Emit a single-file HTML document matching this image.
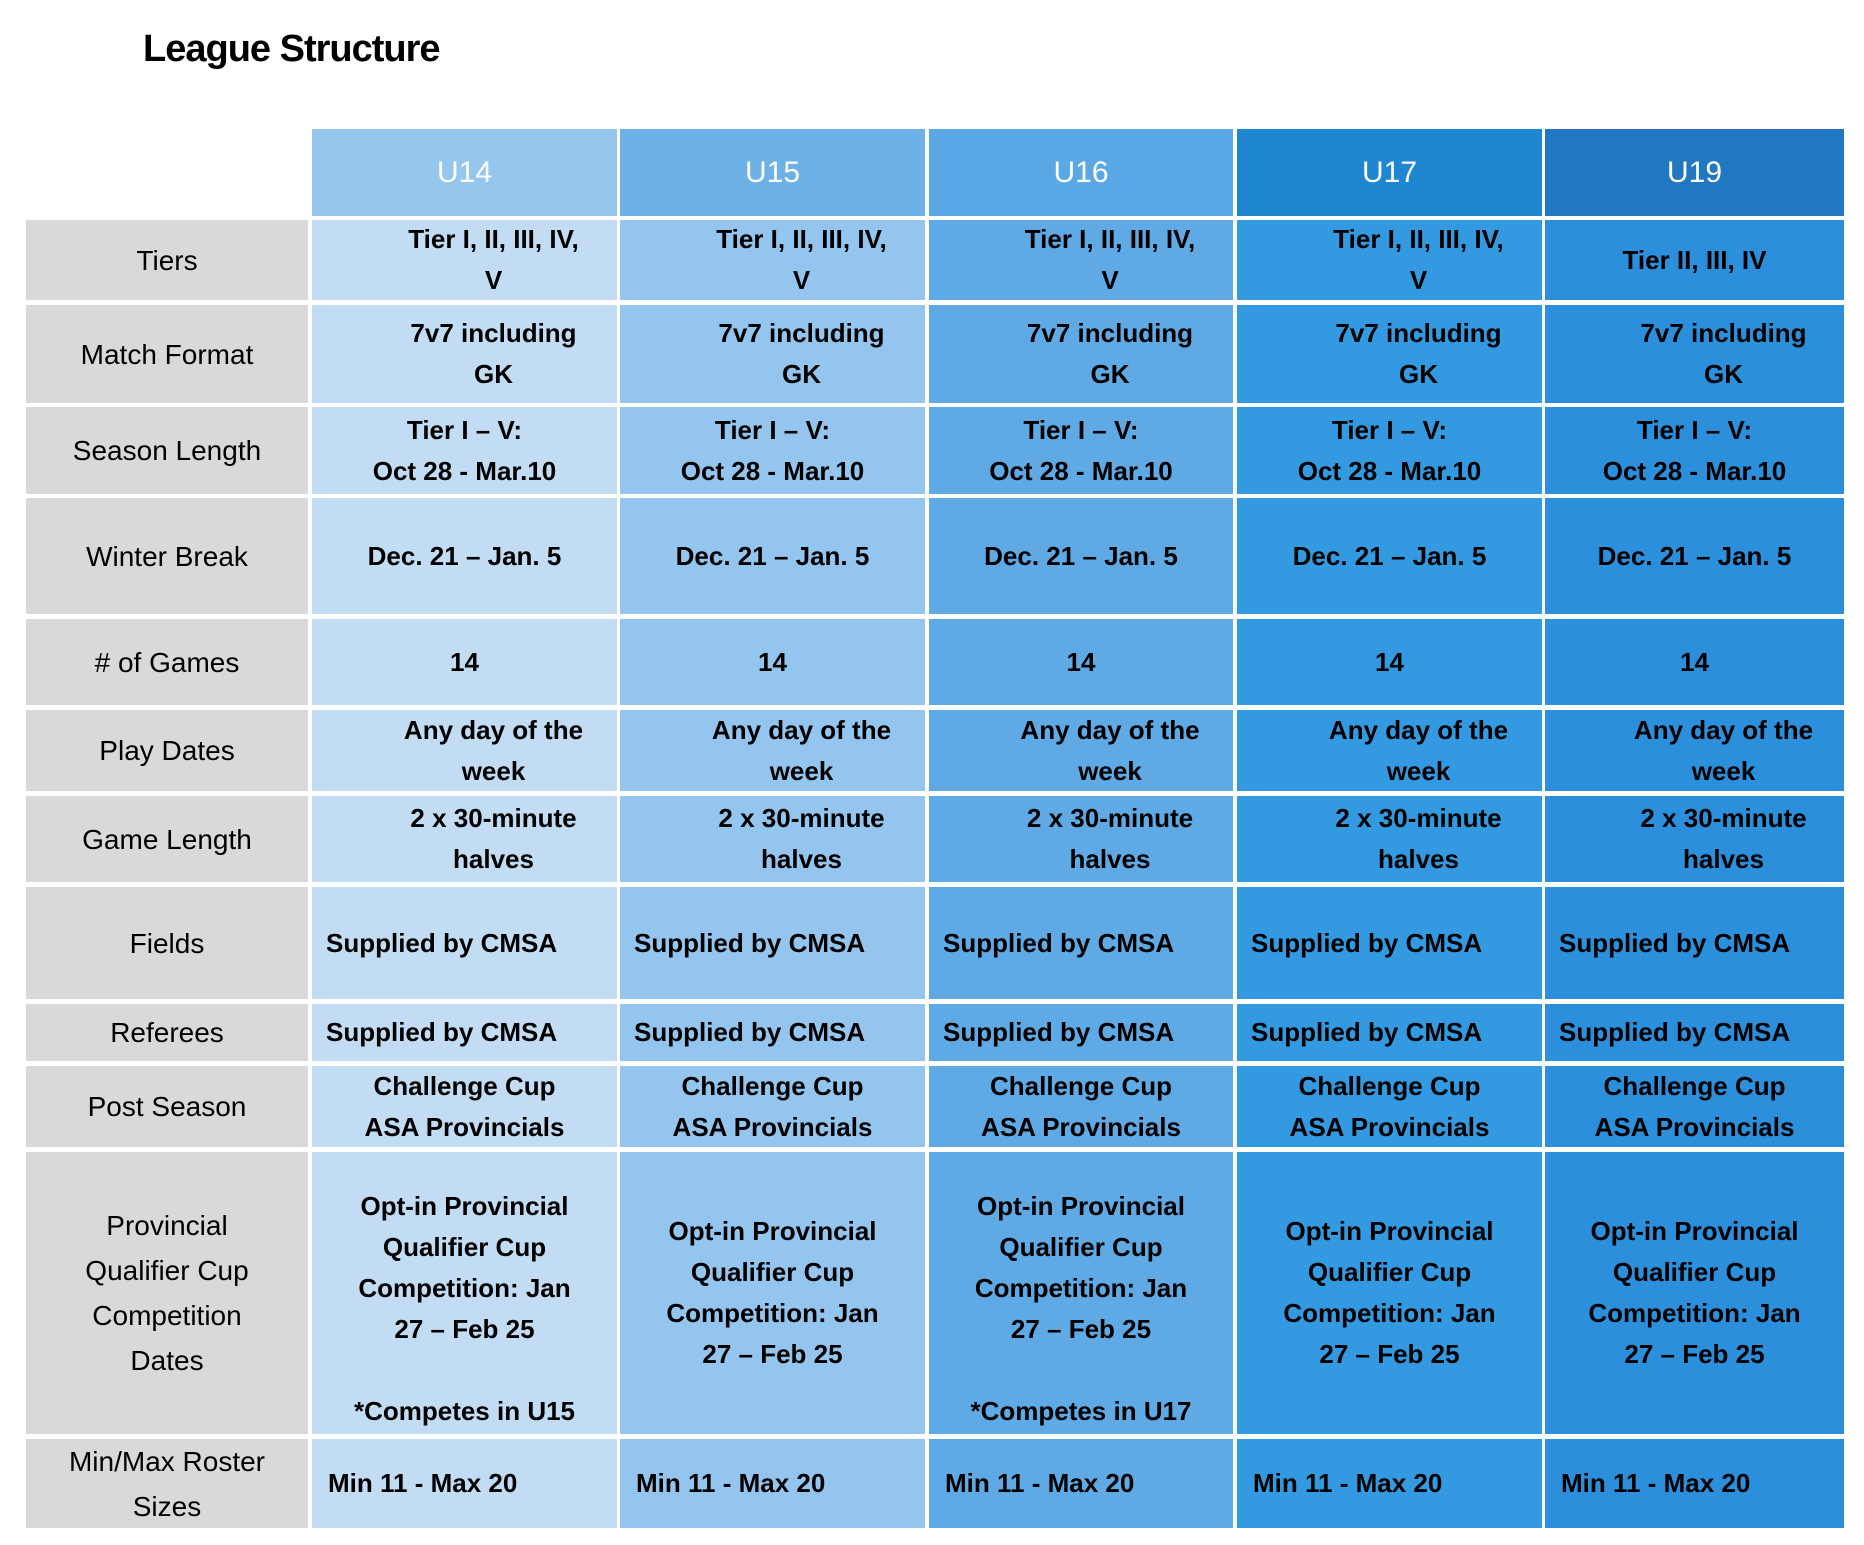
<!DOCTYPE html>
<html><head><meta charset="utf-8">
<style>
body{margin:0;width:1864px;height:1545px;background:#fff;position:relative;overflow:hidden;font-family:"Liberation Sans",sans-serif;}
.c{position:absolute;display:flex;align-items:center;justify-content:center;text-align:center;box-sizing:border-box;color:#000;line-height:41px;}
.lab{background:#d9d9d9;font-size:28px;line-height:45px;}
.hd{color:#fff;font-size:30px;}
.b{font-size:26px;font-weight:bold;}
.sh{padding-left:58px;}
.lf{justify-content:flex-start;padding-left:16px;text-align:left;}
</style></head><body>
<div style="position:absolute;left:143px;top:28px;font-size:38px;font-weight:bold;letter-spacing:-1px;">League Structure</div>
<div id="t"></div>
<script>
const cols=[[312,617],[620,925],[929,1233],[1237,1542],[1545,1844]];
const heads=['U14','U15','U16','U17','U19'];
const headBg=['#95c6ee','#6cb2e8','#5aa8e5','#1f86d0','#1f78c0'];
const bodyBg=['#c1dcf3','#94c5ee','#5fa9e4','#3399e0','#2b8fdc'];
const rows=[[220,300],[305,403],[407,494],[498,614],[619,705],[710,791],[796,882],[887,999],[1004,1061],[1066,1147],[1152,1434],[1439,1528]];
const labels=['Tiers','Match Format','Season Length','Winter Break','# of Games','Play Dates','Game Length','Fields','Referees','Post Season','Provincial<br>Qualifier Cup<br>Competition<br>Dates','Min/Max Roster<br>Sizes'];
const prov='Opt-in Provincial<br>Qualifier Cup<br>Competition: Jan<br>27 – Feb 25';
const vals=[
 ['Tier I, II, III, IV,<br>V','Tier I, II, III, IV,<br>V','Tier I, II, III, IV,<br>V','Tier I, II, III, IV,<br>V','Tier II, III, IV'],
 ['7v7 including<br>GK','7v7 including<br>GK','7v7 including<br>GK','7v7 including<br>GK','7v7 including<br>GK'],
 ['Tier I – V:<br>Oct 28 - Mar.10','Tier I – V:<br>Oct 28 - Mar.10','Tier I – V:<br>Oct 28 - Mar.10','Tier I – V:<br>Oct 28 - Mar.10','Tier I – V:<br>Oct 28 - Mar.10'],
 ['Dec. 21 – Jan. 5','Dec. 21 – Jan. 5','Dec. 21 – Jan. 5','Dec. 21 – Jan. 5','Dec. 21 – Jan. 5'],
 ['14','14','14','14','14'],
 ['Any day of the<br>week','Any day of the<br>week','Any day of the<br>week','Any day of the<br>week','Any day of the<br>week'],
 ['2 x 30-minute<br>halves','2 x 30-minute<br>halves','2 x 30-minute<br>halves','2 x 30-minute<br>halves','2 x 30-minute<br>halves'],
 ['Supplied by CMSA','Supplied by CMSA','Supplied by CMSA','Supplied by CMSA','Supplied by CMSA'],
 ['Supplied by CMSA','Supplied by CMSA','Supplied by CMSA','Supplied by CMSA','Supplied by CMSA'],
 ['Challenge Cup<br>ASA Provincials','Challenge Cup<br>ASA Provincials','Challenge Cup<br>ASA Provincials','Challenge Cup<br>ASA Provincials','Challenge Cup<br>ASA Provincials'],
 [prov+'<br><br>*Competes in U15',prov,prov+'<br><br>*Competes in U17',prov,prov],
 ['Min 11 - Max 20','Min 11 - Max 20','Min 11 - Max 20','Min 11 - Max 20','Min 11 - Max 20']];
const shifted=[0,1,5,6];
const t=document.getElementById('t');
function mk(x,y,w,h,cls,html,bg){const d=document.createElement('div');d.className='c '+cls;d.style.left=x+'px';d.style.top=y+'px';d.style.width=w+'px';d.style.height=h+'px';if(bg)d.style.background=bg;d.innerHTML=html;t.appendChild(d);return d;}
heads.forEach((h,i)=>{const d=mk(cols[i][0],129,cols[i][1]-cols[i][0],87,'hd',h,headBg[i]);

});
rows.forEach((r,j)=>{const l=mk(26,r[0],282,r[1]-r[0],'lab',labels[j]);


cols.forEach((c,i)=>{let cls='b';if(shifted.includes(j)&&!(j===0&&i===4))cls+=' sh';if(j===7||j===8)cls+=' lf';if(j===11)cls+=' lf';
const d=mk(c[0],r[0],c[1]-c[0],r[1]-r[0],cls,vals[j][i],bodyBg[i]);
if(j===7||j===8)d.style.paddingLeft='14px';
if(j===10&&(i===0||i===2)){d.style.alignItems='flex-end';d.style.paddingBottom='2px';}

});});
</script>
</body></html>
